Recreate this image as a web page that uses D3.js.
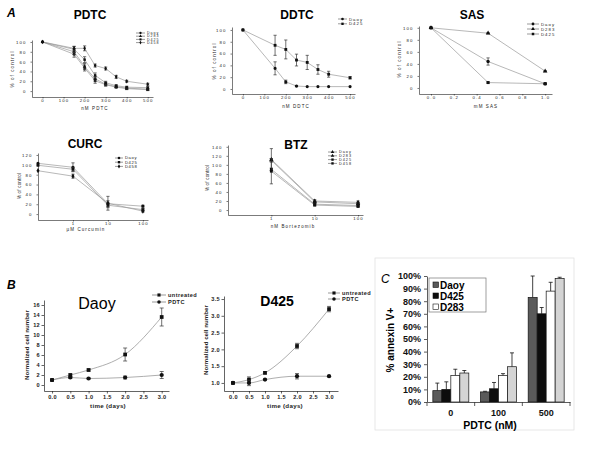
<!DOCTYPE html>
<html><head><meta charset="utf-8">
<script src="https://cdn.jsdelivr.net/npm/d3@7"></script>
<style>body{margin:0;background:#fff}svg{display:block}text{font-family:"Liberation Sans",Arial,sans-serif}</style>
</head><body>
<svg id="c" width="600" height="450"></svg>
<script>
// ---------- DATA ----------
// Panel A: PDTC
const pdtcDose = [0,150,200,250,300,350,400,500];
const pdtcDaoy = [100,75,47,21,13,8,5,3];
const pdtcD283 = [100,80,50,25,14,9,6,4];
const pdtcD425 = [100,85,64,32,17,11,8,7];
const pdtcD458 = [100,87,87,52,46,29,20,14];
const pdtcErrLow = [0,6,6,5,3,2,2,2];
const pdtcErrHigh = [0,4,5,3,3,3,2,2];
const pdtcTicks = [0,100,200,300,400,500];
// Panel A: DDTC
const ddtcDose = [0,150,200,250,300,350,400,500];
const ddtcDaoy = [100,35,12,5,4,4,4,4];
const ddtcDaoyErr = [0,11,3,1,0,0,0,0];
const ddtcD425 = [100,74,67,49,45,33,25,19];
const ddtcD425Err = [0,17,16,10,12,8,5,2];
// Panel A: SAS
const sasDose = [0,0.5,1.0];
const sasDaoy = [100,44,7];
const sasDaoyErr = [0,6,1];
const sasD283 = [100,91,28];
const sasD283Err = [0,1,1];
const sasD425 = [100,9,7];
const sasD425Err = [0,1,1];
const sasTicks = [0,0.2,0.4,0.6,0.8,1.0];
// Panel A: CURC
const curcDose = [0.1,1,10,100];
const curcDaoy = [103,95,21,16];
const curcDaoyErr = [0,9,6,2];
const curcD425 = [99,91,18,9];
const curcD425Err = [0,4,5,2];
const curcD458 = [88,77,22,6];
const curcD458Err = [0,4,14,2];
// Panel A: BTZ
const btzDose = [1,10,100];
const btzDaoy = [112,20,17];
const btzDaoyErr = [24,3,3];
const btzD283 = [110,18,14];
const btzD283Err = [4,2,2];
const btzD425 = [90,13,10];
const btzD425Err = [3,2,2];
const btzD458 = [86,11,8];
const btzD458Err = [28,2,2];
const logTicks = [1,10,100];
// Panel B: growth
const days = [0,0.5,1,2,3];
const daoyUntreated = [1,2,3,6.1,13.6];
const daoyUntreatedErr = [0,0.2,0.2,1.3,1.8];
const daoyPDTC = [1,1.5,1.3,1.5,2.0];
const daoyPDTCErr = [0,0.2,0.1,0.3,0.7];
const d425Untreated = [1,1.1,1.3,2.1,3.2];
const d425UntreatedErr = [0,0.08,0.03,0.08,0.08];
const d425PDTC = [1,1.0,1.1,1.2,1.2];
const d425PDTCErr = [0,0.08,0.02,0.08,0.02];
const dayTicks = [0,0.5,1,1.5,2,2.5,3];
// Panel C: annexin V
const annexGroups = ["0","100","500"];
const annexSeries = ["Daoy","D425","D283","D458"];
const annexDaoy = [9,8,83];
const annexDaoyErr = [6,0.5,18];
const annexD425 = [10,10.5,70];
const annexD425Err = [6,5,5];
const annexD283 = [21,21,88];
const annexD283Err = [5,1.5,7];
const annexD458 = [23,28,98];
const annexD458Err = [2,11,1];
const annexColors = ["#5a5a5a","#0d0d0d","#ffffff","#d4d4d4"];

// ---------- DRAW ----------
const svg = d3.select('#c');
const SYM = {circle:d3.symbolCircle, square:d3.symbolSquare, triangle:d3.symbolTriangle, diamond:d3.symbolDiamond};

function linePanel(o){
  const g = svg.append('g');
  const x = (o.log ? d3.scaleLog() : d3.scaleLinear()).domain(o.xd).range(o.xr);
  const y = d3.scaleLinear().domain(o.yd).range(o.yr);
  const ax = g.append('g').attr('transform',`translate(0,${o.yr[0]})`)
    .call(d3.axisBottom(x).tickValues(o.xt).tickFormat(o.xf).tickSize(o.tk).tickSizeOuter(0).tickPadding(o.tpx));
  const ay = g.append('g').attr('transform',`translate(${o.xr[0]},0)`)
    .call(d3.axisLeft(y).tickValues(o.yt).tickFormat(o.yf).tickSize(o.tk).tickSizeOuter(0).tickPadding(o.tpy));
  [ax,ay].forEach(a=>{
    a.selectAll('path,line').attr('stroke','#222').attr('stroke-width',o.aw);
    a.selectAll('text').attr('font-size',o.fs).attr('font-weight',o.fw).attr('letter-spacing',o.ls).attr('fill','#222')
      .style('font-family','"Liberation Sans",Arial,sans-serif');
  });
  const line = d3.line().x((d,i)=>x(o.xs[i])).y(d=>y(d)).curve(o.curve||d3.curveLinear);
  o.series.forEach(s=>{
    g.append('path').attr('d',line(s.v)).attr('fill','none').attr('stroke',o.lc).attr('stroke-width',o.lw);
  });
  o.series.forEach(s=>{
    s.v.forEach((v,i)=>{
      const e = s.e[i]; if(!e) return;
      const cx = x(o.xs[i]);
      g.append('line').attr('x1',cx).attr('x2',cx).attr('y1',y(v-e)).attr('y2',y(v+e)).attr('stroke','#333').attr('stroke-width',0.7);
      [v-e,v+e].forEach(t=>g.append('line').attr('x1',cx-o.cap).attr('x2',cx+o.cap).attr('y1',y(t)).attr('y2',y(t)).attr('stroke','#333').attr('stroke-width',0.7));
    });
    g.selectAll(null).data(s.v).join('path')
      .attr('transform',(d,i)=>`translate(${x(o.xs[i])},${y(d)})`)
      .attr('d',d3.symbol().type(SYM[s.sym]).size(o.ms)).attr('fill','#111');
  });
  g.append('text').attr('x',o.tx).attr('y',o.ty).attr('text-anchor','middle')
    .attr('font-size',o.tsz).attr('font-weight',o.tw).text(o.title);
  g.append('text').attr('x',o.xlx).attr('y',o.xly).attr('text-anchor','middle')
    .attr('font-size',o.lfs).attr('font-weight',o.fw).attr('letter-spacing',o.ls).attr('fill','#222').text(o.xlabel);
  g.append('text').attr('transform',`translate(${o.ylx},${o.yly}) rotate(-90)`).attr('text-anchor','middle')
    .attr('font-size',o.lfs).attr('font-weight',o.fw).attr('letter-spacing',o.yls!==undefined?o.yls:o.ls).attr('fill','#222').text(o.ylabel);
  o.series.forEach((s,i)=>{
    const ly = o.leg.y + i*o.leg.dy;
    g.append('line').attr('x1',o.leg.x).attr('x2',o.leg.x+o.leg.w).attr('y1',ly).attr('y2',ly).attr('stroke','#555').attr('stroke-width',0.6);
    g.append('path').attr('transform',`translate(${o.leg.x+o.leg.w/2},${ly})`).attr('d',d3.symbol().type(SYM[s.sym]).size(o.ms*0.7)).attr('fill','#111');
    g.append('text').attr('x',o.leg.x+o.leg.w+2).attr('y',ly).attr('dy','0.35em')
      .attr('font-size',o.leg.fs).attr('font-weight',o.fw).attr('letter-spacing',o.leg.ls).attr('fill','#222').text(s.name);
  });
}

const commonA = {tk:1.5, tpx:0.8, tpy:4, aw:0.6, fs:4.3, fw:'normal', ls:1.1, lfs:4.5, lc:'#999', lw:0.7, cap:1.6, ms:6, tsz:12, tw:'bold'};
const fmtInt = d3.format('d');

linePanel(Object.assign({}, commonA, {
  xd:[-50,525], xr:[32,153], yd:[-12,104], yr:[97,40], xt:pdtcTicks, xf:fmtInt, yt:[0,20,40,60,80,100], yf:fmtInt,
  xs:pdtcDose, series:[
    {name:'Daoy', v:pdtcDaoy, e:pdtcErrLow, sym:'circle'},
    {name:'D283', v:pdtcD283, e:pdtcErrLow, sym:'triangle'},
    {name:'D425', v:pdtcD425, e:pdtcErrLow, sym:'square'},
    {name:'D458', v:pdtcD458, e:pdtcErrHigh, sym:'diamond'}],
  title:'PDTC', tx:90, ty:19, xlabel:'nM PDTC', xlx:95, xly:110, ylabel:'% of control', ylx:14, yly:69,
  leg:{x:136, y:33, dy:3.2, w:9, fs:3.6, ls:1}
}));

linePanel(Object.assign({}, commonA, {
  xd:[-51,523], xr:[232,355], yd:[-8.5,105], yr:[94,27], xt:pdtcTicks, xf:fmtInt, yt:[0,20,40,60,80,100], yf:fmtInt,
  xs:ddtcDose, series:[
    {name:'Daoy', v:ddtcDaoy, e:ddtcDaoyErr, sym:'circle'},
    {name:'D425', v:ddtcD425, e:ddtcD425Err, sym:'square'}],
  title:'DDTC', tx:297, ty:19, xlabel:'nM DDTC', xlx:296, xly:108, ylabel:'% of control', ylx:216, yly:61,
  leg:{x:338, y:19, dy:4.8, w:9, fs:4.3, ls:1}, ms:8
}));

linePanel(Object.assign({}, commonA, {
  xd:[-0.105,1.06], xr:[419,552], yd:[-10,103], yr:[94,26], xt:sasTicks, xf:d3.format('.1f'), yt:[0,20,40,60,80,100], yf:fmtInt,
  xs:sasDose, series:[
    {name:'Daoy', v:sasDaoy, e:sasDaoyErr, sym:'circle'},
    {name:'D283', v:sasD283, e:sasD283Err, sym:'triangle'},
    {name:'D425', v:sasD425, e:sasD425Err, sym:'square'}],
  title:'SAS', tx:472, ty:19, xlabel:'mM SAS', xlx:486, xly:108, ylabel:'% of control', ylx:401, yly:59,
  leg:{x:527, y:24, dy:5, w:12, fs:4.3, ls:1}, ms:9
}));

linePanel(Object.assign({}, commonA, {
  log:true, xd:[0.1,140], xr:[38,148], yd:[-12,124], yr:[220,153], xt:logTicks, xf:fmtInt, yt:[0,20,40,60,80,100,120], yf:fmtInt,
  xs:curcDose, series:[
    {name:'Daoy', v:curcDaoy, e:curcDaoyErr, sym:'circle'},
    {name:'D425', v:curcD425, e:curcD425Err, sym:'square'},
    {name:'D458', v:curcD458, e:curcD458Err, sym:'diamond'}],
  title:'CURC', tx:85, ty:148, xlabel:'µM Curcumin', xlx:86, xly:231, ylabel:'% of control', ylx:21, yly:186, yls:0.2,
  leg:{x:115, y:158, dy:4.2, w:8, fs:4.2, ls:0.6}, ms:8
}));

linePanel(Object.assign({}, commonA, {
  log:true, xd:[0.1,130], xr:[228,363], yd:[-11,144], yr:[215,145], xt:logTicks, xf:fmtInt, yt:[0,20,40,60,80,100,120,140], yf:fmtInt,
  xs:btzDose, series:[
    {name:'Daoy', v:btzDaoy, e:btzDaoyErr, sym:'triangle'},
    {name:'D283', v:btzD283, e:btzD283Err, sym:'triangle'},
    {name:'D425', v:btzD425, e:btzD425Err, sym:'square'},
    {name:'D458', v:btzD458, e:btzD458Err, sym:'square'}],
  title:'BTZ', tx:296, ty:149, xlabel:'nM Bortezomib', xlx:293, xly:228, ylabel:'% of control', ylx:209, yly:178, yls:0.2,
  leg:{x:328, y:152, dy:3.8, w:9, fs:3.8, ls:1}, ms:8
}));

const commonB = {tk:2.5, tpx:1.5, tpy:1.5, aw:0.7, fs:5.6, fw:'bold', ls:0.3, lfs:6.2, lc:'#999', lw:0.8, cap:2, ms:14, tw:'normal', xt:dayTicks, xf:d3.format('.1f'), xs:days, curve:d3.curveMonotoneX};

linePanel(Object.assign({}, commonB, {
  xd:[-0.22,3.2], xr:[44,169], yd:[-1.2,17], yr:[391,300], yt:[0,2,4,6,8,10,12,14,16], yf:fmtInt,
  series:[
    {name:'untreated', v:daoyUntreated, e:daoyUntreatedErr, sym:'square'},
    {name:'PDTC', v:daoyPDTC, e:daoyPDTCErr, sym:'circle'}],
  title:'Daoy', tx:97, ty:309, tsz:16, xlabel:'time (days)', xlx:108, xly:408, ylabel:'Normalized cell number', ylx:29, yly:345, yls:0,
  leg:{x:152, y:295, dy:7, w:14, fs:5.6, ls:0.4}
}));

linePanel(Object.assign({}, commonB, {
  xd:[-0.28,3.28], xr:[224,338], yd:[0.76,3.59], yr:[391,296], yt:[1,1.5,2,2.5,3,3.5], yf:d3.format('.1f'),
  series:[
    {name:'untreated', v:d425Untreated, e:d425UntreatedErr, sym:'square'},
    {name:'PDTC', v:d425PDTC, e:d425PDTCErr, sym:'circle'}],
  title:'D425', tx:277, ty:306, tsz:14, tw:'bold', xlabel:'time (days)', xlx:285, xly:408, ylabel:'Normalized cell number', ylx:208, yly:340, yls:0,
  leg:{x:328, y:293, dy:6, w:12, fs:5.6, ls:0.4}
}));

// Panel C
(function(){
  const g = svg.append('g');
  g.append('rect').attr('x',375).attr('y',258).attr('width',199).attr('height',172).attr('fill','none').attr('stroke','#e2e2e2').attr('stroke-width',0.8);
  const x0 = d3.scaleBand().domain(annexGroups).range([427,570]);
  const x1 = d3.scaleBand().domain(annexSeries).range([0,x0.bandwidth()]).paddingInner(0).paddingOuter(0.65);
  const y = d3.scaleLinear().domain([0,1]).range([402,276]);
  const vals = [annexDaoy, annexD425, annexD283, annexD458];
  const errs = [annexDaoyErr, annexD425Err, annexD283Err, annexD458Err];
  annexSeries.forEach((s,si)=>{
    annexGroups.forEach((grp,gi)=>{
      const bx = x0(grp)+x1(s), bw = x1.bandwidth();
      const v = vals[si][gi]/100, e = errs[si][gi]/100;
      const cx = bx+bw/2;
      const top = y(Math.min(v+e,1.0));
      g.append('line').attr('x1',cx).attr('x2',cx).attr('y1',y(v)).attr('y2',top).attr('stroke','#111').attr('stroke-width',0.8);
      g.append('line').attr('x1',cx-2).attr('x2',cx+2).attr('y1',top).attr('y2',top).attr('stroke','#111').attr('stroke-width',0.8);
      g.append('rect').attr('x',bx).attr('y',y(v)).attr('width',bw).attr('height',y(0)-y(v))
        .attr('fill',annexColors[si]).attr('stroke','#111').attr('stroke-width',0.7);
    });
  });
  const ay = g.append('g').attr('transform','translate(427,0)')
    .call(d3.axisLeft(y).tickValues(d3.range(0,1.01,0.1)).tickFormat(d3.format('.0%')).tickSize(3).tickSizeOuter(0).tickPadding(3));
  const ax = g.append('g').attr('transform','translate(0,402)')
    .call(d3.axisBottom(x0).tickSize(0).tickPadding(7.5));
  [427,x0('100'),x0('500'),570].forEach(px=>g.append('line').attr('x1',px).attr('x2',px).attr('y1',402).attr('y2',406).attr('stroke','#333').attr('stroke-width',0.8));
  [ax,ay].forEach(a=>{
    a.selectAll('path,line').attr('stroke','#333').attr('stroke-width',0.8);
    a.selectAll('text').attr('font-size',9).attr('font-weight','bold').attr('fill','#111').style('font-family','"Liberation Sans",Arial,sans-serif');
  });
  g.append('text').attr('x',490).attr('y',429).attr('text-anchor','middle').attr('font-size',10.5).attr('font-weight','bold').text('PDTC (nM)');
  g.append('text').attr('transform','translate(394,340) rotate(-90)').attr('text-anchor','middle').attr('font-size',10).attr('font-weight','bold').text('% annexin V+');
  g.append('text').attr('x',381).attr('y',283).attr('font-size',12).attr('font-style','italic').text('C');
  g.append('rect').attr('x',429).attr('y',278).attr('width',57).attr('height',34).attr('fill','#fff').attr('stroke','#777').attr('stroke-width',0.7);
  annexSeries.slice(0,3).forEach((s,i)=>{
    const ly = 285 + i*11;
    g.append('rect').attr('x',433).attr('y',ly-3).attr('width',5.5).attr('height',5.5).attr('fill',annexColors[i]).attr('stroke','#111').attr('stroke-width',0.6);
    g.append('text').attr('x',440).attr('y',ly).attr('dy','0.35em').attr('font-size',10).attr('font-weight','bold').text(s);
  });
})();

svg.append('text').attr('x',7).attr('y',17).attr('font-size',12).attr('font-weight','bold').attr('font-style','italic').text('A');
svg.append('text').attr('x',7).attr('y',289).attr('font-size',12).attr('font-weight','bold').attr('font-style','italic').text('B');
</script>
</body></html>
